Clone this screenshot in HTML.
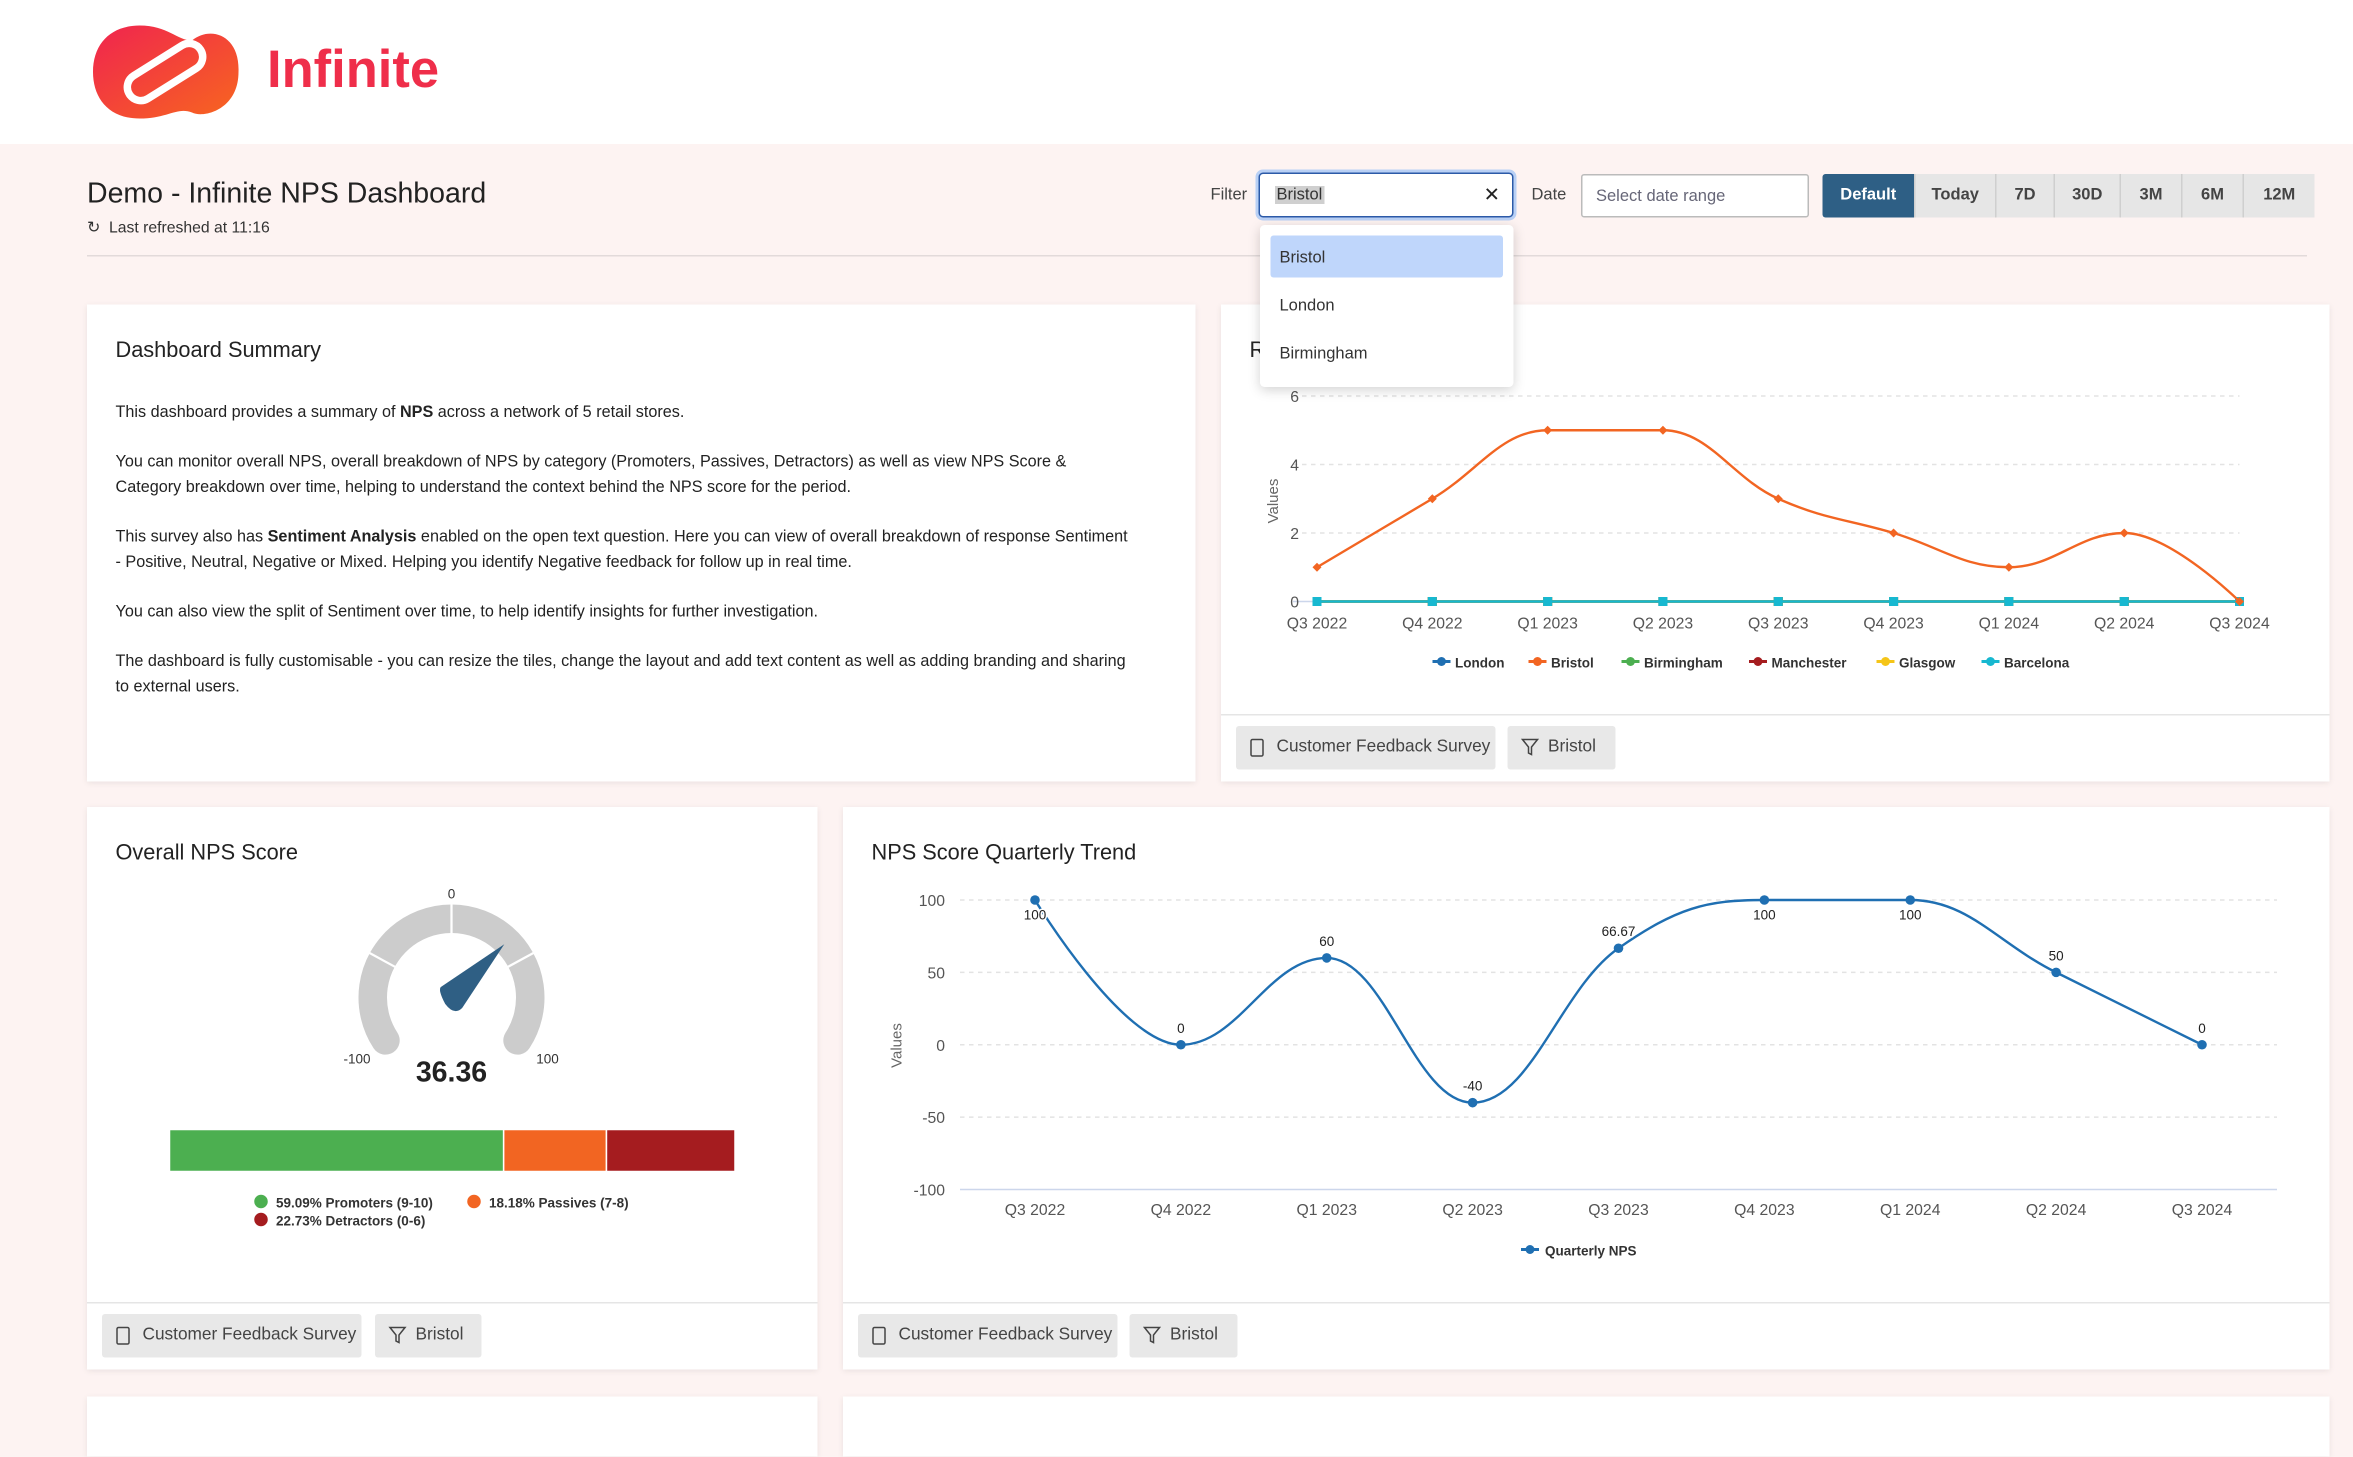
<!DOCTYPE html>
<html><head><meta charset="utf-8"><style>
*{box-sizing:border-box;margin:0;padding:0}
html,body{width:2353px;height:1432px;overflow:hidden;background:#fdf3f2;font-family:"Liberation Sans",sans-serif}
#root{position:absolute;left:0;top:0;width:1568.67px;height:954.67px;transform:scale(1.5);transform-origin:0 0;background:#fdf3f2;color:#222}
.abs{position:absolute}
.card{position:absolute;background:#fff;box-shadow:0 1px 4px rgba(0,0,0,.08)}
.ctitle{position:absolute;font-size:14.5px;color:#222}
.chip{position:absolute;height:29px;background:#e8e8e8;border-radius:2px;font-size:11.5px;color:#444;line-height:29px;padding-left:27px}
.chip svg{position:absolute;left:9px;top:8px}
.btn{position:absolute;top:116px;height:29px;background:#e6e6e6;border-right:1px solid #cfcfcf;font-size:11px;font-weight:bold;color:#444;text-align:center;line-height:29px}
.summary p{font-size:10.8px;line-height:17px;color:#222;margin-bottom:16px}
svg text{font-family:"Liberation Sans",sans-serif}
</style></head><body>
<div id="root">
<div class="abs" style="left:0;top:0;width:1569px;height:96px;background:#fff"></div>
<svg class="abs" style="left:60px;top:15px" width="102" height="66" viewBox="0 0 102 66">
<defs><linearGradient id="lg" x1="0" y1="0" x2="1" y2="1"><stop offset="0" stop-color="#f0244f"/><stop offset="1" stop-color="#f7661f"/></linearGradient></defs>
<path d="M33 2 C52 2 58 12 68 12 C80 2 100 8 99 33 C99 58 76 64 68 60 C58 56 52 64 33 64 C12 64 2 50 2 33 C2 14 14 2 33 2Z" fill="url(#lg)"/>
<g transform="rotate(-32 50 33)"><rect x="22" y="24" width="56" height="18" rx="9" fill="none" stroke="#fff" stroke-width="5"/></g>
</svg>
<div class="abs" style="left:178px;top:27px;font-size:35px;font-weight:bold;color:#ef2e4a">Infinite</div>

<div class="abs" style="left:58px;top:119px;font-size:19px;color:#222">Demo - Infinite NPS Dashboard</div>
<div class="abs" style="left:58px;top:146px;font-size:10.5px;color:#333">&#x21BB;&nbsp; Last refreshed at 11:16</div>
<div class="abs" style="left:58px;top:170px;width:1480px;height:1px;background:#e2dada"></div>

<div class="abs" style="left:807px;top:124px;font-size:11px;color:#444">Filter</div>
<div class="abs" style="left:839px;top:115px;width:170px;height:30px;border:1.5px solid #2c5aa8;box-shadow:0 0 0 2px #b9d0f5;border-radius:3px;background:#fff">
<span style="position:absolute;left:10px;top:8px;font-size:11px;background:#cfcfcf;color:#333;padding:0 1px">Bristol</span>
<span style="position:absolute;right:8px;top:6px;font-size:13px;color:#222">✕</span></div>
<div class="abs" style="left:1021px;top:124px;font-size:11px;color:#444">Date</div>
<div class="abs" style="left:1054px;top:116px;width:152px;height:29px;border:1px solid #bbb;border-radius:2px;background:#fff;font-size:11px;color:#667;padding:8px 9px">Select date range</div>
<div class="btn" style="left:1215px;width:62px;background:#2e5f85;color:#fff;border-radius:2px 0 0 2px">Default</div>
<div class="btn" style="left:1277px;width:54px">Today</div>
<div class="btn" style="left:1331px;width:39px">7D</div>
<div class="btn" style="left:1370px;width:44px">30D</div>
<div class="btn" style="left:1414px;width:41px">3M</div>
<div class="btn" style="left:1455px;width:41px">6M</div>
<div class="btn" style="left:1496px;width:47px;border-right:none">12M</div>

<!-- summary -->
<div class="card summary" style="left:58px;top:203px;width:739px;height:318px">
<div class="ctitle" style="left:19px;top:23px">Dashboard Summary</div>
<div style="position:absolute;left:19px;top:64px;width:676px">
<p>This dashboard provides a summary of <b>NPS</b> across a network of 5 retail stores.</p>
<p>You can monitor overall NPS, overall breakdown of NPS by category (Promoters, Passives, Detractors) as well as view NPS Score &amp; Category breakdown over time, helping to understand the context behind the NPS score for the period.</p>
<p>This survey also has <b>Sentiment Analysis</b> enabled on the open text question. Here you can view of overall breakdown of response Sentiment - Positive, Neutral, Negative or Mixed. Helping you identify Negative feedback for follow up in real time.</p>
<p>You can also view the split of Sentiment over time, to help identify insights for further investigation.</p>
<p>The dashboard is fully customisable - you can resize the tiles, change the layout and add text content as well as adding branding and sharing to external users.</p>
</div></div>

<!-- responses card -->
<div class="card" style="left:814px;top:203px;width:739px;height:318px">
<div class="ctitle" style="left:19px;top:23px">Responses by Location</div>
<div class="abs" style="left:0;top:273px;width:739px;height:1px;background:#e5e5e5"></div>
</div>
<svg class="abs" id="locChart" style="left:814px;top:250px" width="739" height="210"></svg>
<div class="chip" style="left:824px;top:484px;width:173px"><svg width="10" height="13"><rect x="1" y="1" width="8" height="11" rx="1" fill="none" stroke="#444"/></svg>Customer Feedback Survey</div>
<div class="chip" style="left:1005px;top:484px;width:72px"><svg width="12" height="12"><path d="M1 1H11L7 6V11L5 10V6Z" fill="none" stroke="#444"/></svg>Bristol</div>

<!-- overall NPS -->
<div class="card" style="left:58px;top:538px;width:487px;height:375px">
<div class="ctitle" style="left:19px;top:23px">Overall NPS Score</div>
<div class="abs" style="left:0;top:330px;width:487px;height:1px;background:#e5e5e5"></div>
</div>
<svg class="abs" id="gauge" style="left:58px;top:538px" width="487" height="300"></svg>
<div class="chip" style="left:68px;top:876px;width:173px"><svg width="10" height="13"><rect x="1" y="1" width="8" height="11" rx="1" fill="none" stroke="#444"/></svg>Customer Feedback Survey</div>
<div class="chip" style="left:250px;top:876px;width:71px"><svg width="12" height="12"><path d="M1 1H11L7 6V11L5 10V6Z" fill="none" stroke="#444"/></svg>Bristol</div>

<!-- trend -->
<div class="card" style="left:562px;top:538px;width:991px;height:375px">
<div class="ctitle" style="left:19px;top:23px">NPS Score Quarterly Trend</div>
<div class="abs" style="left:0;top:330px;width:991px;height:1px;background:#e5e5e5"></div>
</div>
<svg class="abs" id="trend" style="left:562px;top:580px" width="991" height="270"></svg>
<div class="chip" style="left:572px;top:876px;width:173px"><svg width="10" height="13"><rect x="1" y="1" width="8" height="11" rx="1" fill="none" stroke="#444"/></svg>Customer Feedback Survey</div>
<div class="chip" style="left:753px;top:876px;width:72px"><svg width="12" height="12"><path d="M1 1H11L7 6V11L5 10V6Z" fill="none" stroke="#444"/></svg>Bristol</div>

<div class="card" style="left:58px;top:931px;width:487px;height:40px"></div>
<div class="card" style="left:562px;top:931px;width:991px;height:40px"></div>

<!-- dropdown -->
<div class="abs" style="left:840px;top:150px;width:169px;height:108px;background:#fff;border-radius:3px;box-shadow:0 2px 8px rgba(0,0,0,.18)">
<div style="position:absolute;left:7px;top:7px;width:155px;height:28px;background:#bfd6fb;border-radius:2px;font-size:11px;padding:9px 6px;color:#333">Bristol</div>
<div style="position:absolute;left:7px;top:39px;width:155px;height:28px;font-size:11px;padding:9px 6px;color:#333">London</div>
<div style="position:absolute;left:7px;top:71px;width:155px;height:28px;font-size:11px;padding:9px 6px;color:#333">Birmingham</div>
</div>
</div>

<script>
const NS='http://www.w3.org/2000/svg';
function el(p,t,a){const e=document.createElementNS(NS,t);for(const k in a)e.setAttribute(k,a[k]);p.appendChild(e);return e;}
function spline(pts){
  const sm=1.5,den=2.5;const cps=pts.map((p,i)=>{const L=pts[i-1],N=pts[i+1];if(!L||!N)return {l:p,r:p};
    let lx=(sm*p[0]+L[0])/den,ly=(sm*p[1]+L[1])/den,rx=(sm*p[0]+N[0])/den,ry=(sm*p[1]+N[1])/den;
    if(rx!==lx){const c=((ry-ly)*(rx-p[0]))/(rx-lx)+p[1]-ry;ly+=c;ry+=c;}
    if(ly>L[1]&&ly>p[1]){ly=Math.max(L[1],p[1]);ry=2*p[1]-ly;}else if(ly<L[1]&&ly<p[1]){ly=Math.min(L[1],p[1]);ry=2*p[1]-ly;}
    if(ry>N[1]&&ry>p[1]){ry=Math.max(N[1],p[1]);ly=2*p[1]-ry;}else if(ry<N[1]&&ry<p[1]){ry=Math.min(N[1],p[1]);ly=2*p[1]-ry;}
    return {l:[lx,ly],r:[rx,ry]};});
  let d='M'+pts[0][0]+' '+pts[0][1];
  for(let i=1;i<pts.length;i++){const a=cps[i-1].r,b=cps[i].l;d+=` C${a[0]} ${a[1]} ${b[0]} ${b[1]} ${pts[i][0]} ${pts[i][1]}`;}
  return d;}

// ---- location chart data
const quarters=['Q3 2022','Q4 2022','Q1 2023','Q2 2023','Q3 2023','Q4 2023','Q1 2024','Q2 2024','Q3 2024'];
const locNames=['London','Bristol','Birmingham','Manchester','Glasgow','Barcelona'];
const locColors=['#1f6fb2','#f26522','#4caf50','#a51c1f','#f5c518','#17b8d0'];
const londonVals=[0,0,0,0,0,0,0,0,0];
const bristolVals=[1,3,5,5,3,2,1,2,0];
const birminghamVals=[0,0,0,0,0,0,0,0,0];
const manchesterVals=[0,0,0,0,0,0,0,0,0];
const glasgowVals=[0,0,0,0,0,0,0,0,0];
const barcelonaVals=[0,0,0,0,0,0,0,0,0];
const locTicks=[0,2,4,6];
// ---- trend data
const trendVals=[100,0,60,-40,66.67,100,100,50,0];
const trendLabels=['100','0','60','-40','66.67','100','100','50','0'];
const trendTicks=[-100,-50,0,50,100];
// ---- gauge data
const npsScore=36.36;
const catPct=[59.09,18.18,22.73];
const catNames=['59.09% Promoters (9-10)','18.18% Passives (7-8)','22.73% Detractors (0-6)'];
const catColors=['#4caf50','#f26522','#a51c1f'];

(function(){
const s=document.getElementById('locChart');
const x=i=>64+i*(679-64)/(quarters.length-1), y=v=>151-v*(151-14)/6;
locTicks.forEach(t=>{el(s,'line',{x1:48,x2:679,y1:y(t),y2:y(t),stroke:t?'#e3e3e3':'#ccd6eb','stroke-dasharray':t?'3,3':'',});
const tx=el(s,'text',{x:52,y:y(t)+4,'font-size':10.5,fill:'#555','text-anchor':'end'});tx.textContent=t;});
const yt=el(s,'text',{x:38,y:84,'font-size':10,fill:'#666','text-anchor':'middle',transform:'rotate(-90 38 84)'});yt.textContent='Values';
quarters.forEach((q,i)=>{const t=el(s,'text',{x:x(i),y:169,'font-size':10.5,fill:'#555','text-anchor':'middle'});t.textContent=q;});
const all=[londonVals,bristolVals,birminghamVals,manchesterVals,glasgowVals,barcelonaVals];
[0,2,3,4,5,1].forEach(si=>{const vals=all[si];const p=vals.map((v,i)=>[x(i),y(v)]);
const path=el(s,'path',{d:spline(p),fill:'none',stroke:locColors[si],'stroke-width':1.6});


p.forEach(pt=>{const m=si===1?el(s,'path',{d:`M${pt[0]} ${pt[1]-3}L${pt[0]+3} ${pt[1]}L${pt[0]} ${pt[1]+3}L${pt[0]-3} ${pt[1]}Z`,fill:locColors[si]}):el(s,'rect',{x:pt[0]-3,y:pt[1]-3,width:6,height:6,fill:locColors[si]});

});});
const lx=[147,211,273,358,443,513];
locNames.forEach((n,i)=>{const g=el(s,'g',{});


el(g,'line',{x1:lx[i]-6,x2:lx[i]+6,y1:191,y2:191,stroke:locColors[i],'stroke-width':2});el(g,'circle',{cx:lx[i],cy:191,r:3,fill:locColors[i]});
const t=el(g,'text',{x:lx[i]+9,y:195,'font-size':9,'font-weight':'bold',fill:'#333'});t.textContent=n;});
})();

(function(){
const s=document.getElementById('trend');
const x=i=>128+i*(906-128)/(quarters.length-1), y=v=>116.5-v*(193/200);
trendTicks.forEach(t=>{el(s,'line',{x1:78,x2:956,y1:y(t),y2:y(t),stroke:t===-100?'#ccd6eb':'#e3e3e3','stroke-dasharray':t===-100?'':'3,3'});
const tx=el(s,'text',{x:68,y:y(t)+4,'font-size':10.5,fill:'#555','text-anchor':'end'});tx.textContent=t;});
const yt=el(s,'text',{x:39,y:117,'font-size':10,fill:'#666','text-anchor':'middle',transform:'rotate(-90 39 117)'});yt.textContent='Values';
quarters.forEach((q,i)=>{const t=el(s,'text',{x:x(i),y:230,'font-size':10.5,fill:'#555','text-anchor':'middle'});t.textContent=q;});
const p=trendVals.map((v,i)=>[x(i),y(v)]);
const path=el(s,'path',{d:spline(p),fill:'none',stroke:'#1f6fb2','stroke-width':1.6});


p.forEach((pt,i)=>{const c=el(s,'circle',{cx:pt[0],cy:pt[1],r:3.2,fill:'#1f6fb2'});


const t=el(s,'text',{x:pt[0],y:pt[1]+(trendVals[i]>=100?13:-8),'font-size':9,fill:'#222','text-anchor':'middle','stroke':'#fff','stroke-width':2,'paint-order':'stroke'});t.textContent=trendLabels[i];});
const g=el(s,'g',{});


el(g,'line',{x1:452,x2:464,y1:253,y2:253,stroke:'#1f6fb2','stroke-width':2});el(g,'circle',{cx:458,cy:253,r:3,fill:'#1f6fb2'});
const lt=el(g,'text',{x:468,y:257,'font-size':9,'font-weight':'bold',fill:'#333'});lt.textContent='Quarterly NPS';
})();

(function(){
const s=document.getElementById('gauge');const cx=243,cy=127,R=62,r=43,maxA=123*Math.PI/180;
const ang=v=>v/100*maxA;const pt=(a,rr)=>[cx+rr*Math.sin(a),cy-rr*Math.cos(a)];
const rm=(R+r)/2,w=R-r;const a0=ang(-100),a1=ang(100);const P0=pt(a0,rm),P1=pt(a1,rm);
el(s,'path',{d:`M${P0[0]} ${P0[1]} A${rm} ${rm} 0 1 1 ${P1[0]} ${P1[1]}`,fill:'none',stroke:'#cccccc','stroke-width':w,'stroke-linecap':'round'});
[-50,0,50].forEach(v=>{const a=pt(ang(v),r-1),b=pt(ang(v),R+1);el(s,'line',{x1:a[0],y1:a[1],x2:b[0],y2:b[1],stroke:'#fff','stroke-width':1.5});});
const na=ang(npsScore),tip=pt(na,50),b1=pt(na-Math.PI/2,10),b2=pt(na+Math.PI/2,10),back=pt(na+Math.PI,6);
const nd=el(s,'path',{d:`M${tip[0]} ${tip[1]} L${b2[0]} ${b2[1]} Q${back[0]+6} ${back[1]+8} ${back[0]} ${back[1]} Q${b1[0]-2} ${b1[1]+2} ${b1[0]} ${b1[1]} Z`,fill:'#2f5f84'});


const lab=(t,xx,yy,fs,fw)=>{const e=el(s,'text',{x:xx,y:yy,'font-size':fs,'font-weight':fw||'normal',fill:'#333','text-anchor':'middle'});e.textContent=t;};
lab('0',243,61,9);lab('-100',180,171,9);lab('100',307,171,9);
const v=el(s,'text',{x:243,y:183,'font-size':19,'font-weight':'bold',fill:'#222','text-anchor':'middle'});v.textContent=npsScore.toFixed(2);


let xx=55;const W=377;
catPct.forEach((p,i)=>{const ww=p/100*W;const rc=el(s,'rect',{x:xx,y:215,width:ww,height:28,fill:catColors[i],stroke:'#fff','stroke-width':1});

xx+=ww;});
const lp=[[116,263],[258,263],[116,275]];
catNames.forEach((n,i)=>{el(s,'circle',{cx:lp[i][0],cy:lp[i][1],r:4.5,fill:catColors[i]});
const t=el(s,'text',{x:lp[i][0]+10,y:lp[i][1]+4,'font-size':9,'font-weight':'bold',fill:'#333'});t.textContent=n;});
})();
</script>
</body></html>
